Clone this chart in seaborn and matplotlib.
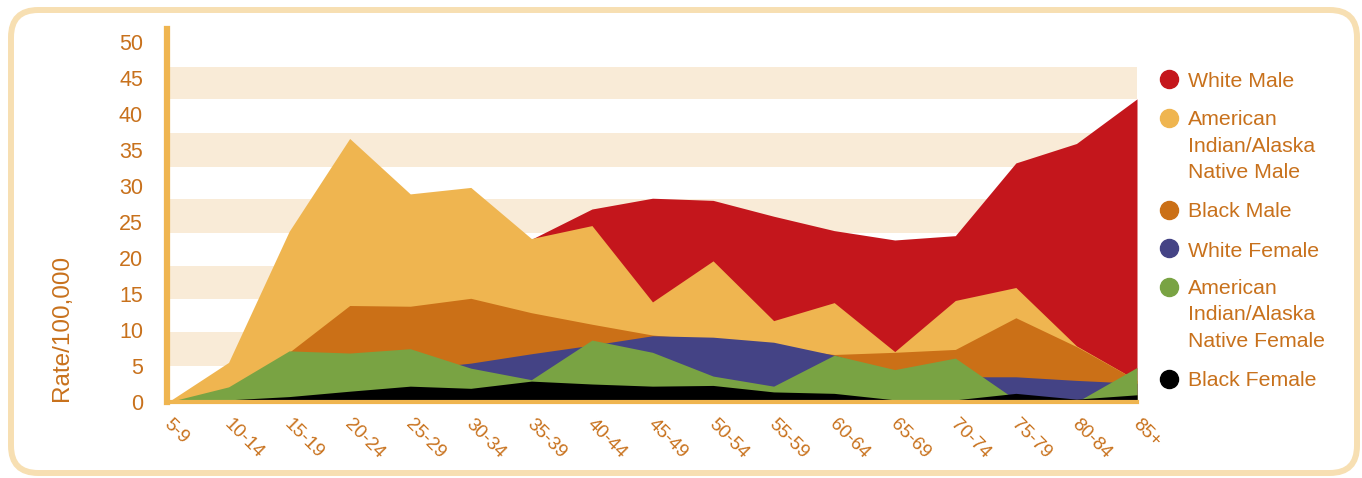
import matplotlib
matplotlib.use("Agg")
import matplotlib.pyplot as plt
from matplotlib.patches import FancyBboxPatch
from matplotlib.lines import Line2D
from matplotlib.transforms import ScaledTranslation
import seaborn as sns
import numpy as np

# ---------------- data ----------------
age_groups = ["5-9", "10-14", "15-19", "20-24", "25-29", "30-34", "35-39", "40-44",
              "45-49", "50-54", "55-59", "60-64", "65-69", "70-74", "75-79", "80-84", "85+"]

white_male = [0, 1.0, 8.0, 14.0, 17.0, 20.0, 22.6, 26.8, 28.3, 28.0, 25.8, 23.8, 22.5, 23.1, 33.2, 35.9, 42.1]
aian_male = [0, 5.5, 23.7, 36.6, 28.9, 29.8, 22.7, 24.5, 13.9, 19.6, 11.3, 13.8, 7.0, 14.1, 15.9, 7.8, 3.0]
black_male = [0, 1.0, 6.9, 13.4, 13.3, 14.4, 12.4, 10.8, 9.3, 8.6, 7.6, 6.6, 6.9, 7.3, 11.7, 7.7, 3.0]
white_female = [0, 0.8, 3.0, 4.0, 4.5, 5.4, 6.7, 7.9, 9.2, 9.0, 8.3, 6.5, 4.0, 3.5, 3.5, 3.0, 2.6]
aian_female = [0, 2.1, 7.1, 6.8, 7.4, 4.7, 3.1, 8.6, 6.9, 3.6, 2.2, 6.5, 4.5, 6.1, 0.3, 0.0, 4.8]
black_female = [0, 0.3, 0.75, 1.5, 2.2, 1.9, 2.9, 2.5, 2.2, 2.3, 1.4, 1.2, 0.3, 0.3, 1.2, 0.4, 1.0]

series_names = ["White Male", "American\nIndian/Alaska\nNative Male", "Black Male",
                "White Female", "American\nIndian/Alaska\nNative Female", "Black Female"]
series_values = [white_male, aian_male, black_male, white_female, aian_female, black_female]
series_colors = ["#C4161C", "#EFB550", "#CB7017", "#444385", "#79A343", "#000000"]

y_ticks = [0, 5, 10, 15, 20, 25, 30, 35, 40, 45, 50]
y_label = "Rate/100,000"

# ---------------- style ----------------
sns.set_theme(style="white")
plt.rcParams["font.family"] = ["Liberation Sans", "DejaVu Sans"]
text_color = "#C8711C"
axis_color = "#EFB550"
band_color = "#F9EBD7"
frame_color = "#F7DFB2"

W, H = 1362, 478
fig = plt.figure(figsize=(W / 100, H / 100), dpi=100)
fig.patch.set_facecolor("white")

# rounded frame
frame = FancyBboxPatch((11 / W, 5 / H), (1357 - 11) / W, (468 - 5) / H,
                       boxstyle="round,pad=0,rounding_size=0.02",
                       transform=fig.transFigure, facecolor="none",
                       edgecolor=frame_color, linewidth=4.3, mutation_aspect=W / H)
fig.patches.append(frame)

ax_left, ax_right, ax_bottom, ax_top = 168, 1137, 402, 29
ax = fig.add_axes([ax_left / W, 1 - ax_bottom / H, (ax_right - ax_left) / W, (ax_bottom - ax_top) / H])
ax.set_facecolor("white")

x = np.arange(len(age_groups))
ax.set_xlim(0, len(age_groups) - 1)
ax.set_ylim(0, 51.8)

# decorative horizontal bands
band_edges = [(5.0, 9.72), (14.3, 18.9), (23.5, 28.2), (32.6, 37.4), (42.1, 46.5)]
for lo, hi in band_edges:
    ax.axhspan(lo, hi, color=band_color, lw=0, zorder=0)

for i, (vals, col) in enumerate(zip(series_values, series_colors)):
    ax.fill_between(x, 0, vals, color=col, lw=0, zorder=2 + i)

# spines
for s in ["top", "right"]:
    ax.spines[s].set_visible(False)
ax.spines["left"].set_color(axis_color)
ax.spines["left"].set_linewidth(4.5)
ax.spines["left"].set_position(("outward", 1))
ax.spines["bottom"].set_color(axis_color)
ax.spines["bottom"].set_linewidth(3)
ax.spines["bottom"].set_zorder(20)

ax.set_yticks(y_ticks)
ax.set_yticklabels([str(v) for v in y_ticks], fontsize=15.5, color=text_color)
ax.tick_params(axis="y", length=0, pad=17)

ax.set_xticks(x)
ax.set_xticklabels(age_groups, fontsize=13.5, color=text_color, rotation=-45,
                   ha="left", va="top", rotation_mode="anchor")
ax.tick_params(axis="x", length=0, pad=10)
shift = ScaledTranslation(4 / 100, 0, fig.dpi_scale_trans)
for lbl in ax.get_xticklabels():
    lbl.set_transform(lbl.get_transform() + shift)
ax.grid(False)

fig.text(62 / W, 1 - 328 / H, y_label, rotation=90, ha="center", va="center",
         fontsize=17.5, color=text_color)

# legend (manual)
legend_tops = [72, 110, 202, 242, 279, 371]
circle_y = [79, 118, 210, 248, 287, 379]
for name, col, ty, cy in zip(series_names, series_colors, legend_tops, circle_y):
    fig.add_artist(Line2D([1169 / W], [1 - cy / H], marker="o", markersize=13,
                          color=col, lw=0, transform=fig.transFigure))
    fig.text(1188 / W, 1 - ty / H, name, ha="left", va="top", fontsize=15.3,
             color=text_color, linespacing=1.5)

fig.savefig("out.png", dpi=100, facecolor="white")
